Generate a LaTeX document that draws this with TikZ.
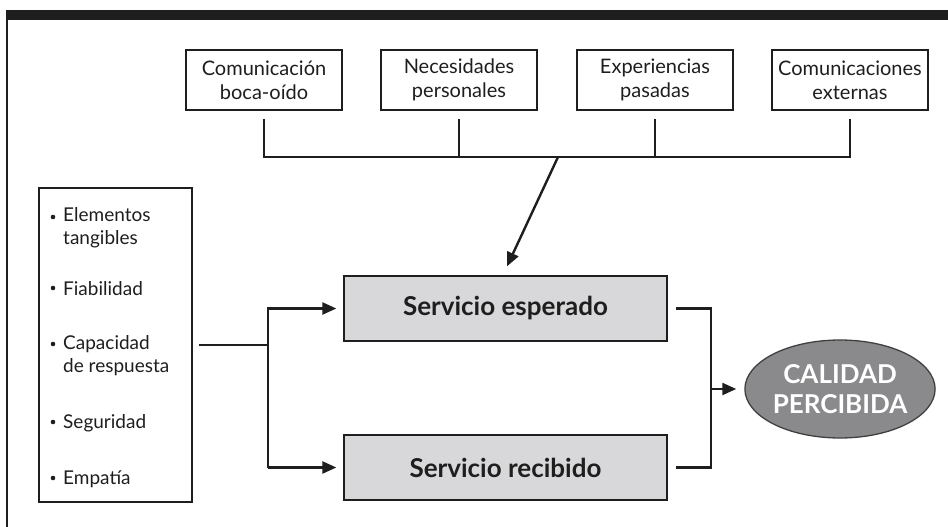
\documentclass[tikz,border=0pt]{standalone}
\usepackage{fontspec}
\setmainfont{Lato}
\usetikzlibrary{shapes.geometric,arrows.meta}
\definecolor{boxgray}{HTML}{D8D8DA}
\definecolor{ellgray}{HTML}{8A8A8D}
\definecolor{ink}{HTML}{1E1E1E}
\begin{document}
\begin{tikzpicture}[x=1pt,y=-1pt,
  topbox/.style={draw=ink, line width=1.3pt, minimum width=156pt, minimum height=60pt, align=center, inner sep=0pt, text=ink, font=\fontsize{20}{24}\selectfont},
  svc/.style={draw=ink, line width=1.3pt, fill=boxgray, minimum width=323pt, minimum height=65pt, inner sep=0pt, text=ink, font=\bfseries\fontsize{26}{30}\selectfont},
  item/.style={anchor=west, align=left, inner sep=0pt, text=ink, font=\fontsize{19}{23}\selectfont},
  conn/.style={draw=ink, line width=2.4pt},
  arr/.style={draw=ink, line width=2.4pt, -{Triangle[length=14pt,width=12pt]}}]
\useasboundingbox (0,0) rectangle (948,527);
\fill[ink] (6,10) rectangle (948,20);
\draw[ink, line width=1.3pt] (7,20) -- (7,527);

% top boxes
\node[topbox] (c1) at (264,80) {Comunicación\\boca-oído};
\node[topbox] (c2) at (459,80) {Necesidades\\personales};
\node[topbox] (c3) at (655,80) {Experiencias\\pasadas};
\node[topbox] (c4) at (850,80) {Comunicaciones\\externas};

\coordinate (barL) at (264,157);
\coordinate (barR) at (850,157);
\coordinate (arrStart) at (558,157);
\draw[conn] ([yshift=-8pt]c1.south) -- (barL) -- (barR) -- ([yshift=-8pt]c4.south);
\draw[conn] ([yshift=-8pt]c2.south) -- (c2.south |- barL);
\draw[conn] ([yshift=-8pt]c3.south) -- (c3.south |- barL);

% service boxes
\node[svc] (esp) at (505.5,308.5) {Servicio esperado};
\node[svc] (rec) at (505.5,467.5) {Servicio recibido};
\draw[arr] (arrStart) -- ([xshift=1.5pt,yshift=9pt]esp.north);

% list box
\node[draw=ink, line width=1.3pt, minimum width=153pt, minimum height=314pt, inner sep=0pt] (list) at (115.5,345) {};
\node[item] (i1) at (63,228) {Elementos\\tangibles};
\node[item] (i2) at (63,289) {Fiabilidad};
\node[item] (i3) at (63,356) {Capacidad\\de respuesta};
\node[item] (i4) at (63,423) {Seguridad};
\node[item] (i5) at (63,479) {Empatía};
\foreach \yy in {217,288,344,422,478} \fill[ink] (53,\yy) circle (2.3pt);

% left fork
\coordinate (fork) at (268,345);
\coordinate (forkT) at (268,308.5);
\coordinate (forkB) at (268,467.5);
\draw[conn] ([xshift=6pt]list.east) -- (fork);
\draw[arr] (forkB) -- (forkT) -- ([xshift=-7pt]esp.west);
\draw[arr] (forkB) -- ([xshift=-7pt]rec.west);

% result ellipse
\node[ellipse, draw=ink!85, line width=1.3pt, fill=ellgray, minimum width=175pt, minimum height=98pt, inner sep=0pt, align=center, text=white, font=\bfseries\fontsize{26}{30}\selectfont] (cal) at (840,389) {CALIDAD\\PERCIBIDA};

\coordinate (rT) at (711,308.5);
\coordinate (rB) at (711,467.5);
\coordinate (rM) at (711,389);
\draw[conn] ([xshift=8pt]esp.east) -- (rT) -- (rB) -- ([xshift=8pt]rec.east);
\draw[arr] (rM) -- ([xshift=-8pt]cal.west);
\end{tikzpicture}
\end{document}
